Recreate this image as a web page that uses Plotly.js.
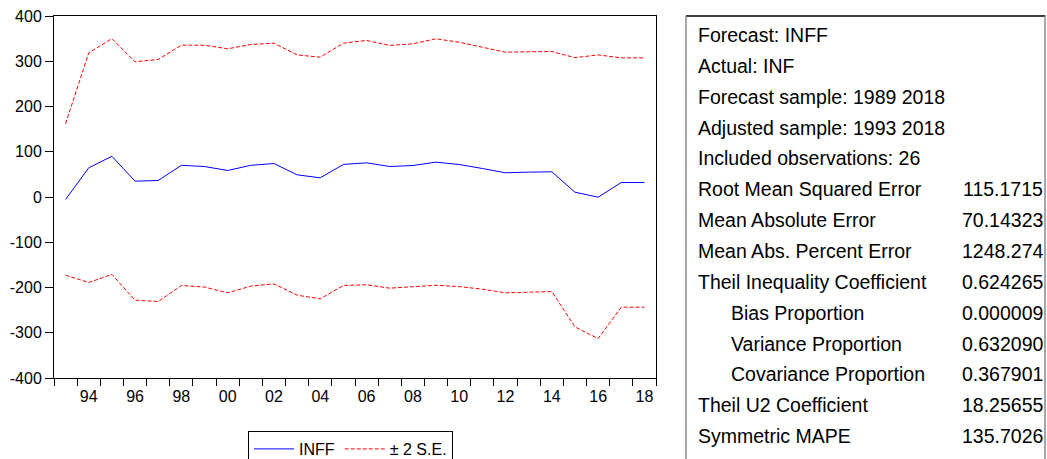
<!DOCTYPE html>
<html>
<head>
<meta charset="utf-8">
<script src="https://cdn.plot.ly/plotly-3.0.1.min.js"></script>
<style>html,body{margin:0;padding:0;background:#fff;}#chart{width:1047px;height:459px;}</style>
</head>
<body>
<div id="chart"></div>
<script>
// ---- data ----
const years = [1993,1994,1995,1996,1997,1998,1999,2000,2001,2002,2003,2004,2005,2006,2007,2008,2009,2010,2011,2012,2013,2014,2015,2016,2017,2018];
const inff  = [-5.5,64.5,90,35,36.5,70,67.4,58.6,70,74,49,42.4,72,75.5,67.4,69.6,77,71.8,63,53.5,55,55.7,10.6,-0.4,32,32];
const upper = [162,318.6,350,298.7,304,335.5,335.5,327.5,337,340,314,309,340,346,335,338.5,349.6,342,331,320,321,321.5,308,314,307.5,307.5];
const lower = [-172.7,-189,-171,-228,-231,-195.6,-199,-211.8,-197,-192,-217,-225,-195.5,-194,-201.5,-199,-195,-198,-203.7,-211.8,-209.6,-209,-287,-313,-243.5,-243.5];
const xTickVals = [1994,1996,1998,2000,2002,2004,2006,2008,2010,2012,2014,2016,2018];
const xTickText = ['94','96','98','00','02','04','06','08','10','12','14','16','18'];
const yTickVals = [-400,-300,-200,-100,0,100,200,300,400];
const yTickText = ['-400','-300','-200','-100','0','100','200','300','400'];
const seriesNames = ['INFF','± 2 S.E.'];
const statLabels = ['Forecast: INFF','Actual: INF','Forecast sample: 1989 2018','Adjusted sample: 1993 2018','Included observations: 26','Root Mean Squared Error','Mean Absolute Error','Mean Abs. Percent Error','Theil Inequality Coefficient','Bias Proportion','Variance Proportion','Covariance Proportion','Theil U2 Coefficient','Symmetric MAPE'];
const statValues = ['','','','','','115.1715','70.14323','1248.274','0.624265','0.000009','0.632090','0.367901','18.25655','135.7026'];
const statIndent = [0,0,0,0,0,0,0,0,0,1,1,1,0,0];

// ---- layout helpers (pixel -> paper) ----
const L=54, T=16, W=602, H=362;
const px = x => (x - L) / W;
const py = y => (T + H - y) / H;
const FONT = 'Liberation Sans, Arial, Helvetica, sans-serif';

const boundaries = [];
for (let i = 0; i <= years.length; i++) boundaries.push(years[0] - 0.5 + i);

const traces = [
  {x: years, y: inff, name: seriesNames[0], type: 'scatter', mode: 'lines',
   line: {color: '#0000ff', width: 1}},
  {x: years, y: upper, name: seriesNames[1], type: 'scatter', mode: 'lines',
   legendgroup: 'se', line: {color: '#ff0000', width: 1, dash: '4px,2px'}},
  {x: years, y: lower, name: seriesNames[1], type: 'scatter', mode: 'lines',
   legendgroup: 'se', showlegend: false, line: {color: '#ff0000', width: 1, dash: '4px,2px'}}
];

const annotations = [];
const lineH = 30.85;
statLabels.forEach((t, i) => {
  const yc = 35 + i * lineH;
  annotations.push({xref: 'paper', yref: 'paper', x: px(statIndent[i] ? 729 : 696), y: py(yc),
    xanchor: 'left', yanchor: 'middle', showarrow: false, text: t,
    font: {family: FONT, size: 19.5, color: '#000'}});
  if (statValues[i]) {
    annotations.push({xref: 'paper', yref: 'paper', x: px(1045), y: py(yc),
      xanchor: 'right', yanchor: 'middle', showarrow: false, text: statValues[i],
      font: {family: FONT, size: 19.5, color: '#000'}});
  }
});

const shapes = [
  {type: 'line', xref: 'paper', yref: 'paper', x0: px(686), x1: px(1045.5), y0: py(16), y1: py(16), line: {color: '#000', width: 1.5}},
  {type: 'line', xref: 'paper', yref: 'paper', x0: px(686), x1: px(686), y0: py(16), y1: py(470), line: {color: '#888', width: 1.5}},
  {type: 'line', xref: 'paper', yref: 'paper', x0: px(1045), x1: px(1045), y0: py(16), y1: py(470), line: {color: '#888', width: 1.5}}
];

const layout = {
  width: 1047, height: 459,
  margin: {l: L, t: T, r: 1047 - L - W, b: 459 - T - H, pad: 0, autoexpand: false},
  paper_bgcolor: '#fff', plot_bgcolor: '#fff',
  font: {family: FONT, size: 16, color: '#000'},
  showlegend: true,
  legend: {orientation: 'h', x: px(248), y: py(431), xanchor: 'left', yanchor: 'top',
    bordercolor: '#000', borderwidth: 1, font: {family: FONT, size: 16, color: '#000'},
    itemwidth: 40, traceorder: 'normal'},
  xaxis: {range: [years[0] - 0.5, years[years.length - 1] + 0.5], tickmode: 'array',
    tickvals: xTickVals, ticktext: xTickText, ticks: 'outside', ticklen: 4, tickcolor: 'rgba(0,0,0,0)',
    showgrid: false, zeroline: false, showline: true, mirror: true, linecolor: '#000', linewidth: 1,
    tickfont: {family: FONT, size: 16, color: '#000'},
    minor: {tickmode: 'array', tickvals: boundaries, ticks: 'outside', ticklen: 7, tickcolor: '#000', tickwidth: 1, showgrid: false}},
  yaxis: {range: [-400, 400], tickmode: 'array', tickvals: yTickVals, ticktext: yTickText,
    ticks: 'outside', ticklen: 8, tickcolor: '#000', showgrid: false, zeroline: false,
    showline: true, mirror: true, linecolor: '#000', linewidth: 1,
    tickfont: {family: FONT, size: 16, color: '#000'}},
  annotations: annotations,
  shapes: shapes
};

Plotly.newPlot('chart', traces, layout, {displayModeBar: false, staticPlot: true});
</script>
</body>
</html>
